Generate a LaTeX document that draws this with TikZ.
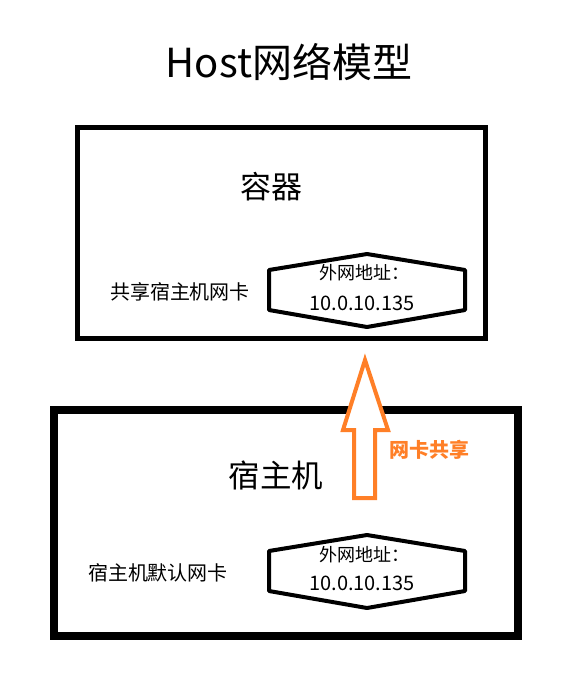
\documentclass[tikz,border=0pt]{standalone}
\usepackage{fontspec}
\setmainfont{Noto Sans CJK SC}
\definecolor{arroworange}{RGB}{255,127,39}
\tikzset{
  box/.style={draw=black, line join=miter},
  hexa/.style={draw=black, line width=4pt, line join=round},
  lbl/.style={inner sep=0pt, anchor=center},
}
\begin{document}
\begin{tikzpicture}[x=1pt,y=-1pt]
\useasboundingbox[fill=white] (0,0) rectangle (566,697);
% title
\node[lbl] (title) at (289,62) {\fontsize{40}{40}\selectfont Host网络模型};
% container box
\draw[box, line width=5pt] (77.5,127) rectangle (485.5,338);
\node[lbl] (ctn) at (271,187) {\fontsize{31}{31}\selectfont 容器};
\node[lbl] (share) at (180,292) {\fontsize{20}{20}\selectfont 共享宿主机网卡};
\draw[hexa] (269,270) -- (367,254) -- (465,270) -- (465,310) -- (367,327) -- (269,310) -- cycle;
\node[lbl] (a1) at (364,273) {\fontsize{18}{18}\selectfont 外网地址：};
\node[lbl] (ip1) at (362,303) {\fontsize{20}{20}\selectfont 10.0.10.135};
% host box
\draw[box, line width=8pt] (54,410) rectangle (517.5,636);
\node[lbl] (host) at (276,475) {\fontsize{31.5}{31.5}\selectfont 宿主机};
\node[lbl] (nic) at (158,573) {\fontsize{20}{20}\selectfont 宿主机默认网卡};
\draw[hexa] (269,551) -- (367,535) -- (465,551) -- (465,591) -- (367,608) -- (269,591) -- cycle;
\node[lbl] (a2) at (364,555) {\fontsize{18}{18}\selectfont 外网地址：};
\node[lbl] (ip2) at (362,583) {\fontsize{20}{20}\selectfont 10.0.10.135};
% arrow
\draw[draw=arroworange, fill=white, line width=4pt, line join=miter]
  (365,360) -- (388,430) -- (375,430) -- (375,498) -- (354,498) -- (354,430) -- (343,430) -- cycle;
\node[lbl, text=arroworange] (shr) at (429,450) {\fontsize{20}{20}\selectfont\bfseries 网卡共享};
\end{tikzpicture}
\end{document}
